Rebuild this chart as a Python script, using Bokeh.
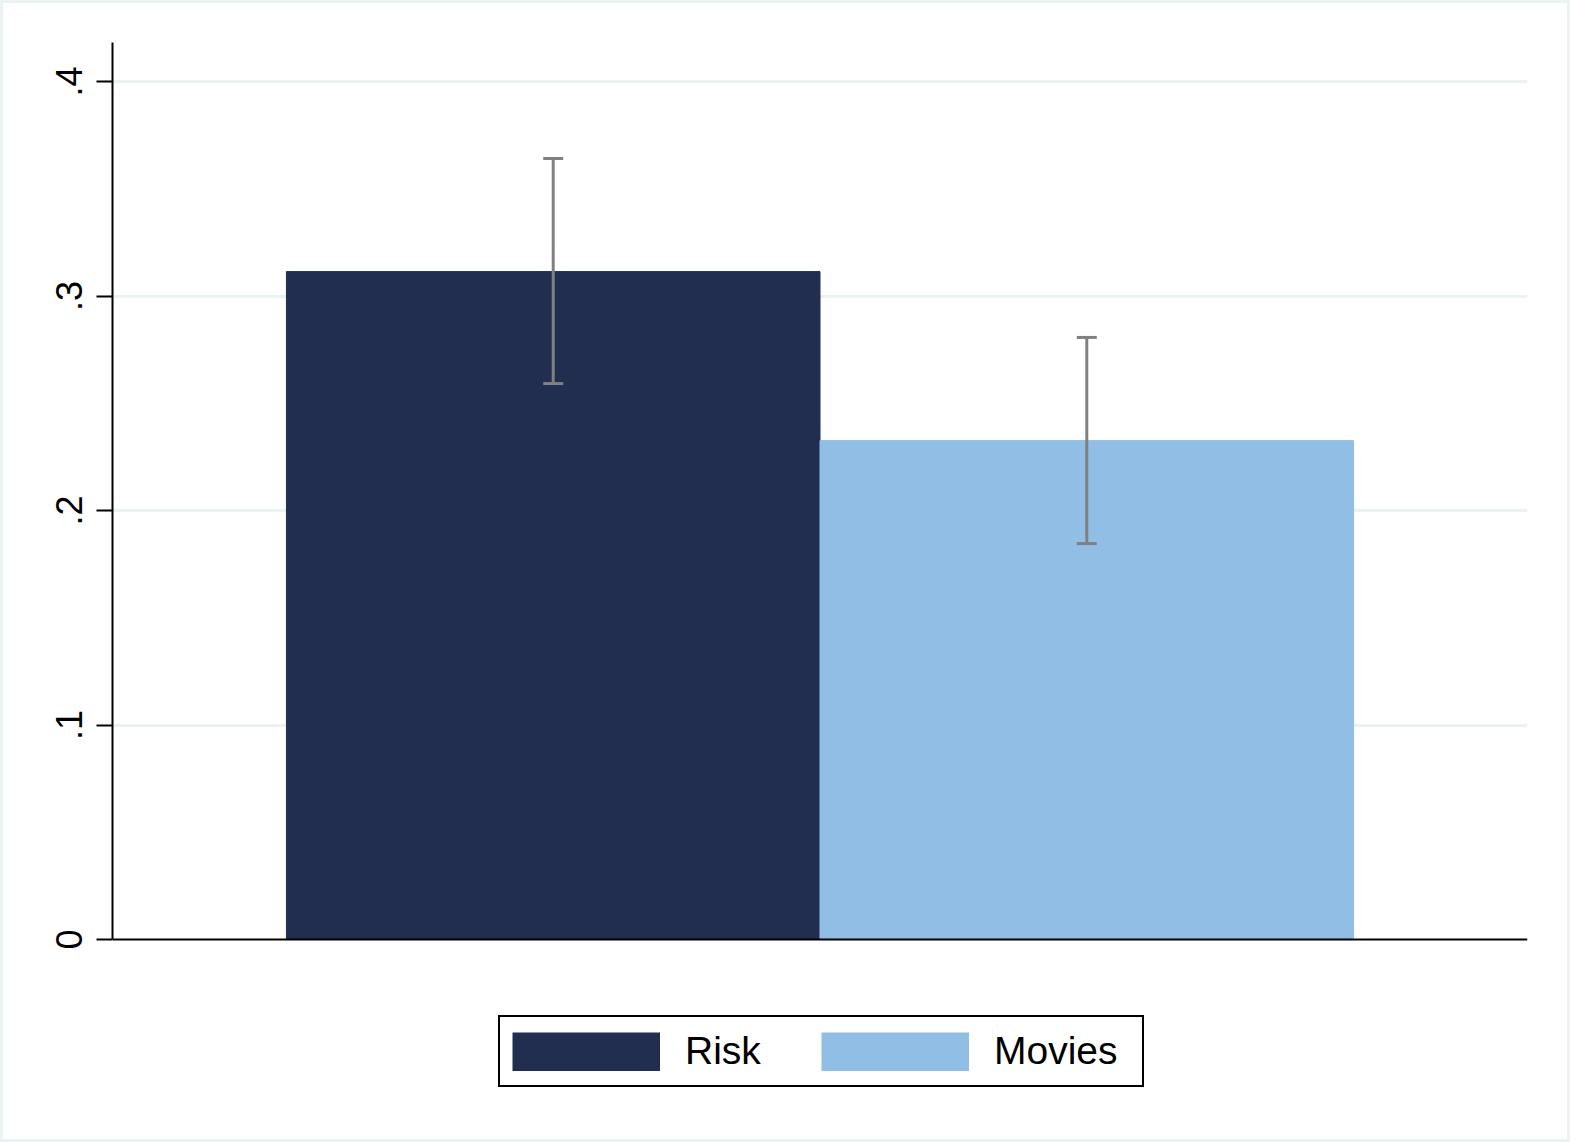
from bokeh.plotting import figure
from bokeh.models import (Range1d, FixedTicker, Legend, LegendItem, Whisker,
                          ColumnDataSource, TeeHead, Span)
from bokeh.embed import file_html
from bokeh.resources import INLINE

# ---- data ----
groups = ["Risk", "Movies"]
positions = [1, 2]
means = [0.3114, 0.2326]
lower = [0.2592, 0.1846]
upper = [0.3641, 0.2807]
colors = ["#212e50", "#90bee4"]
yticks = [0, 0.1, 0.2, 0.3, 0.4]
ytick_labels = ["0", ".1", ".2", ".3", ".4"]

FONT = "Liberation Sans"
NAN = float("nan")

p = figure(frame_width=1415, frame_height=1068, output_backend="svg", toolbar_location=None,
           x_range=Range1d(0.174, 2.826), y_range=Range1d(-0.0797, 0.4182),
           x_axis_location=None,
           min_border_left=109, min_border_right=40, min_border_top=39,
           min_border_bottom=29)
p.styles = {"border": "3px solid #eaf2f3"}
p.outline_line_color = None
p.background_fill_color = "white"
p.border_fill_color = "white"

for i in range(len(groups)):
    src = ColumnDataSource(dict(x=[positions[i]], top=[means[i]]))
    p.vbar(x="x", top="top", bottom=0, width=1.0, source=src,
           fill_color=colors[i], line_color=colors[i])

# legend swatches: thick butt-capped lines with no drawable points (NaN)
swatches = []
for i in range(len(groups)):
    r = p.line(x=[NAN], y=[NAN], line_color=colors[i], line_width=39, line_cap="butt")
    swatches.append(r)

wsrc = ColumnDataSource(dict(x=positions, lower=lower, upper=upper))
w = Whisker(base="x", lower="lower", upper="upper", source=wsrc,
            line_color="#808080", line_width=3, level="overlay",
            upper_head=TeeHead(size=20, line_color="#808080", line_width=3),
            lower_head=TeeHead(size=20, line_color="#808080", line_width=3))
p.add_layout(w)

# y axis (bounded to the data region)
p.yaxis.bounds = (0, 0.4182)
p.yaxis.ticker = FixedTicker(ticks=yticks)
p.yaxis.major_label_overrides = {t: l for t, l in zip(yticks, ytick_labels)}
p.yaxis.major_label_orientation = "vertical"
p.yaxis.major_label_text_font = FONT
p.yaxis.major_label_text_font_size = "36px"
p.yaxis.major_label_text_color = "black"
p.yaxis.major_label_standoff = 14
p.yaxis.major_tick_out = 16
p.yaxis.major_tick_in = 0
p.yaxis.major_tick_line_width = 2
p.yaxis.major_tick_line_color = "black"
p.yaxis.minor_tick_line_color = None
p.yaxis.axis_line_width = 2
p.yaxis.axis_line_color = "black"

# x axis line at y = 0
p.add_layout(Span(location=0, dimension="width", line_color="black", line_width=2,
                  level="overlay"))

p.xgrid.grid_line_color = None
p.ygrid.ticker = FixedTicker(ticks=yticks[1:])
p.ygrid.grid_line_color = "#eaf2f3"
p.ygrid.grid_line_width = 3

legend = Legend(items=[LegendItem(label=g, renderers=[r]) for g, r in zip(groups, swatches)],
                orientation="horizontal", location=(386, 23))
legend.glyph_width = 148
legend.glyph_height = 39
legend.label_standoff = 25
legend.label_width = 136
legend.spacing = 0
legend.padding = 12
legend.margin = 0
legend.label_text_font = FONT
legend.label_text_font_size = "39px"
legend.label_text_color = "black"
legend.border_line_color = "black"
legend.border_line_alpha = 1.0
legend.border_line_width = 2
legend.background_fill_color = "white"
legend.background_fill_alpha = 1.0
p.add_layout(legend, "center")

open("out.html", "w").write(file_html(p, INLINE))
